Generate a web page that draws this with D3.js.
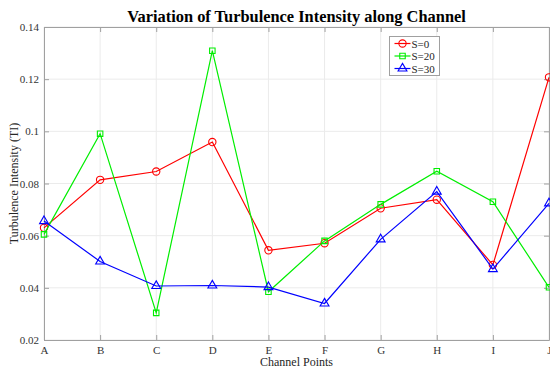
<!DOCTYPE html>
<html>
<head>
<meta charset="utf-8">
<script src="https://cdn.jsdelivr.net/npm/d3@7"></script>
<style>
  html, body { margin: 0; padding: 0; background: #fff; }
  svg text { font-family: "Liberation Serif", "DejaVu Serif", serif; }
</style>
</head>
<body>
<div id="chart"></div>
<script>
// ---- Data
const points = ['A', 'B', 'C', 'D', 'E', 'F', 'G', 'H', 'I', 'J'];
const s0  = [0.0630, 0.0814, 0.0846, 0.0959, 0.0544, 0.0571, 0.0705, 0.0738, 0.0488, 0.1207];
const s20 = [0.0605, 0.0991, 0.0304, 0.1309, 0.0385, 0.0580, 0.0720, 0.0847, 0.0730, 0.0402];
const s30 = [0.0656, 0.0501, 0.0407, 0.0409, 0.0403, 0.0340, 0.0586, 0.0769, 0.0472, 0.0724];
const yTicks = [0.02, 0.04, 0.06, 0.08, 0.1, 0.12, 0.14];
const yTickLabels = ['0.02', '0.04', '0.06', '0.08', '0.1', '0.12', '0.14'];

const series = [
    { name: 'S=0',  values: s0,  color: '#ff0000', marker: 'circle' },
    { name: 'S=20', values: s20, color: '#00ee00', marker: 'square' },
    { name: 'S=30', values: s30, color: '#0000ff', marker: 'triangle' }
];

// ---- Layout
const W = 550, H = 370;
const margin = { top: 27, right: 1, bottom: 30, left: 44 };
const width  = W - margin.left - margin.right;
const height = H - margin.top - margin.bottom;

const svg = d3.select('#chart').append('svg')
    .attr('width', W).attr('height', H);

const mapX = d3.scalePoint().domain(points).range([0, width]);
const mapY = d3.scaleLinear().domain([0.02, 0.14]).range([height, 0]);

const g = svg.append('g').attr('transform', `translate(${margin.left},${margin.top})`);

// ---- Grid
g.append('g').selectAll('line').data(points).join('line')
    .attr('x1', d => mapX(d)).attr('x2', d => mapX(d))
    .attr('y1', 0).attr('y2', height)
    .attr('stroke', '#ebebeb').attr('stroke-width', 1);
g.append('g').selectAll('line').data(yTicks).join('line')
    .attr('x1', 0).attr('x2', width)
    .attr('y1', d => mapY(d)).attr('y2', d => mapY(d))
    .attr('stroke', '#ebebeb').attr('stroke-width', 1);

// ---- Axes (box with inward ticks)
const axisColor = '#a0a0a0';
const styleAxis = sel => {
    sel.select('.domain').attr('stroke', axisColor);
    sel.selectAll('.tick line').attr('stroke', axisColor);
    sel.selectAll('.tick text')
        .attr('fill', '#333').style('font-size', '11px')
        .style('font-family', '"Liberation Serif", serif');
};

g.append('g').attr('transform', `translate(0,${height})`)
    .call(d3.axisBottom(mapX).tickSizeInner(-5).tickSizeOuter(0).tickPadding(6))
    .call(styleAxis);
g.append('g')
    .call(d3.axisTop(mapX).tickSizeInner(-5).tickSizeOuter(0).tickFormat(''))
    .call(styleAxis);
g.append('g')
    .call(d3.axisLeft(mapY).tickValues(yTicks).tickFormat((d, i) => yTickLabels[i])
        .tickSizeInner(-5).tickSizeOuter(0).tickPadding(5))
    .call(styleAxis);
g.append('g').attr('transform', `translate(${width},0)`)
    .call(d3.axisRight(mapY).tickValues(yTicks).tickFormat('')
        .tickSizeInner(-5).tickSizeOuter(0))
    .call(styleAxis);

// ---- Marker shapes
const symbolFor = m => m === 'circle' ? d3.symbol(d3.symbolCircle, 42)
    : m === 'square' ? d3.symbol(d3.symbolSquare, 30)
    : d3.symbol(d3.symbolTriangle, 34);

// ---- Lines and markers
const line = d3.line().x((d, i) => mapX(points[i])).y(d => mapY(d));
series.forEach(s => {
    g.append('path').datum(s.values)
        .attr('d', line)
        .attr('fill', 'none')
        .attr('stroke', s.color)
        .attr('stroke-width', 1.2);
    g.append('g').selectAll('path').data(s.values).join('path')
        .attr('transform', (d, i) => `translate(${mapX(points[i])},${mapY(d)})`)
        .attr('d', symbolFor(s.marker)())
        .attr('fill', 'none')
        .attr('stroke', s.color)
        .attr('stroke-width', 1.1);
});

// ---- Title and axis labels
svg.append('text')
    .attr('x', margin.left + width / 2).attr('y', 22)
    .attr('text-anchor', 'middle')
    .style('font-size', '16.4px').style('font-weight', 'bold')
    .attr('fill', '#000')
    .text('Variation of Turbulence Intensity along Channel');

svg.append('text')
    .attr('x', margin.left + width / 2).attr('y', 366)
    .attr('text-anchor', 'middle')
    .style('font-size', '12px').attr('fill', '#262626')
    .text('Channel Points');

svg.append('text')
    .attr('transform', `translate(18,${margin.top + height / 2}) rotate(-90)`)
    .attr('text-anchor', 'middle')
    .style('font-size', '12px').attr('fill', '#262626')
    .text('Turbulence Intensity (TI)');

// ---- Legend
const legend = svg.append('g').attr('transform', 'translate(389.5,36.5)');
legend.append('rect')
    .attr('width', 50).attr('height', 39)
    .attr('fill', '#fff').attr('stroke', '#a0a0a0').attr('stroke-width', 1);
series.forEach((s, i) => {
    const yy = 7 + i * 12.5;
    legend.append('line')
        .attr('x1', 5).attr('x2', 21).attr('y1', yy).attr('y2', yy)
        .attr('stroke', s.color).attr('stroke-width', 1.2);
    legend.append('path')
        .attr('transform', `translate(13,${yy})`)
        .attr('d', symbolFor(s.marker)())
        .attr('fill', 'none').attr('stroke', s.color).attr('stroke-width', 1.1);
    legend.append('text')
        .attr('x', 22).attr('y', yy + 4)
        .style('font-size', '11px').attr('fill', '#262626')
        .text(s.name);
});
</script>
</body>
</html>
